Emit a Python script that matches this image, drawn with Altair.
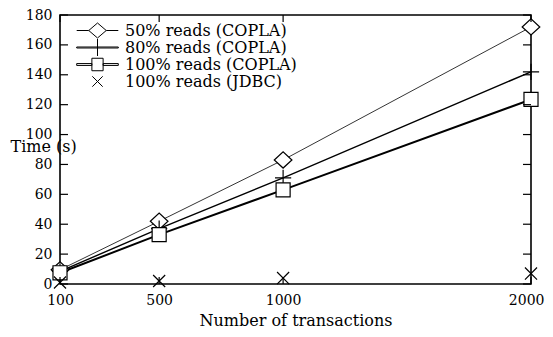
import altair as alt
import pandas as pd

# ---- data ----
x_values = [100, 500, 1000, 2000]
series_names = ["50% reads (COPLA)", "80% reads (COPLA)", "100% reads (COPLA)", "100% reads (JDBC)"]
reads50_copla = [9.5, 42, 83, 172]
reads80_copla = [8.5, 37, 71, 142]
reads100_copla = [7.5, 33, 63, 123.5]
reads100_jdbc = [1, 2, 4, 7]
x_tick_values = [100, 500, 1000, 2000]
y_tick_values = [0, 20, 40, 60, 80, 100, 120, 140, 160, 180]

W, H = 471, 269
FONT = "DejaVu Serif"

rows = []
for name, vals in zip(series_names, [reads50_copla, reads80_copla, reads100_copla, reads100_jdbc]):
    for xv, yv in zip(x_values, vals):
        rows.append({"series": name, "n": xv, "t": yv})
df = pd.DataFrame(rows)
lines_df = df[df["series"] != series_names[3]]

xs = alt.Scale(domain=[100, 2000], nice=False, zero=False)
ys = alt.Scale(domain=[0, 180], nice=False, zero=False)
x_axis = alt.Axis(
    values=x_tick_values, format="d", title="Number of transactions", ticks=False, tickSize=0,
    domain=False, grid=False, labelFontSize=14, labelPadding=9, titleFontSize=16,
    titleFontWeight="normal", titlePadding=5, labelFont=FONT, titleFont=FONT,
    labelColor="black", titleColor="black", labelFlush=False, labelOverlap=False,
    labelAlign=alt.expr("datum.value == 2000 ? 'right' : 'center'"),
    labelOffset=alt.expr("datum.value == 2000 ? 13 : 0"))
y_axis = alt.Axis(
    values=y_tick_values, format="d", title="Time (s)", ticks=False, tickSize=0, domain=False,
    grid=False, labelFontSize=14, labelPadding=8, titleFontSize=16, titleFontWeight="normal",
    titleAngle=0, titleX=-50, titleY=131, titleAlign="left", titleBaseline="middle",
    labelFont=FONT, titleFont=FONT, labelColor="black", titleColor="black",
    labelFlush=False, labelOverlap=False)


def X():
    return alt.X("n:Q", scale=xs, axis=x_axis)


def Y():
    return alt.Y("t:Q", scale=ys, axis=y_axis)


lines = alt.Chart(lines_df).mark_line(color="black").encode(
    x=X(), y=Y(), detail="series:N",
    strokeWidth=alt.StrokeWidth("series:N", scale=alt.Scale(domain=series_names[:3], range=[0.8, 2.0, 2.6]), legend=None),
)

marker_paths = [
    "M-0.98,0L0,-0.9L0.98,0L0,0.9Z",
    "M-0.9,0L0.9,0M0,-0.9L0,0.9",
    "M-0.78,-0.78L0.78,-0.78L0.78,0.78L-0.78,0.78Z",
    "M-0.67,-0.67L0.67,0.67M-0.67,0.67L0.67,-0.67",
]
points = alt.Chart(df).mark_point(filled=True, fill="white", stroke="black", strokeWidth=1.2, opacity=1, size=324).encode(
    x=X(), y=Y(),
    shape=alt.Shape("series:N", scale=alt.Scale(domain=series_names, range=marker_paths), legend=None),
)

legend_paths = [
    "M-1,0L-0.42,0M0.42,0L1,0M-0.42,0L0,-0.36L0.42,0L0,0.36Z",
    "M-1,-0.024L1,-0.024L1,0.024L-1,0.024ZM0,-0.45L0,0.45",
    "M-1,-0.045L-0.27,-0.045L-0.27,0.045L-1,0.045ZM0.27,-0.045L1,-0.045L1,0.045L0.27,0.045ZM-0.27,-0.3L0.27,-0.3L0.27,0.3L-0.27,0.3Z",
    "M-0.25,-0.25L0.25,0.25M-0.25,0.25L0.25,-0.25",
]
legend_layer = alt.Chart(df).transform_filter("false").mark_point(
    filled=False, stroke="black", color="black", strokeWidth=1, opacity=1
).encode(
    x=X(), y=Y(),
    shape=alt.Shape("series:N", scale=alt.Scale(domain=series_names, range=legend_paths),
                    legend=alt.Legend(title=None, orient="none", legendX=16, legendY=7, padding=0,
                                      symbolSize=1730, clipHeight=17, rowPadding=0, labelLimit=400,
                                      labelFontSize=16, labelFont=FONT, labelOffset=6,
                                      labelColor="black", symbolStrokeColor="black",
                                      symbolStrokeWidth=1, symbolOpacity=1)),
)

xt = pd.DataFrame({"n": x_tick_values})
yt = pd.DataFrame({"t": y_tick_values})
TL = 7
tick_bottom = alt.Chart(xt).mark_rule(color="black", strokeWidth=1.2).encode(x=X(), y=alt.value(H), y2=alt.value(H - TL))
tick_top = alt.Chart(xt).mark_rule(color="black", strokeWidth=1.2).encode(x=X(), y=alt.value(0), y2=alt.value(TL))
tick_left = alt.Chart(yt).mark_rule(color="black", strokeWidth=1.2).encode(y=Y(), x=alt.value(0), x2=alt.value(TL + 1))
tick_right = alt.Chart(yt).mark_rule(color="black", strokeWidth=1.2).encode(y=Y(), x=alt.value(W), x2=alt.value(W - TL - 1))

chart = alt.layer(
    lines, points, legend_layer, tick_bottom, tick_top, tick_left, tick_right
).resolve_scale(shape="independent").properties(
    width=W, height=H,
    autosize=alt.AutoSizeParams(type="none"),
    padding={"left": 52, "top": 7, "right": 14, "bottom": 45},
    background="white",
).configure(font=FONT).configure_view(stroke="black", strokeWidth=1.6)

chart.save("out.html", embed_options={"renderer": "svg", "actions": False})
